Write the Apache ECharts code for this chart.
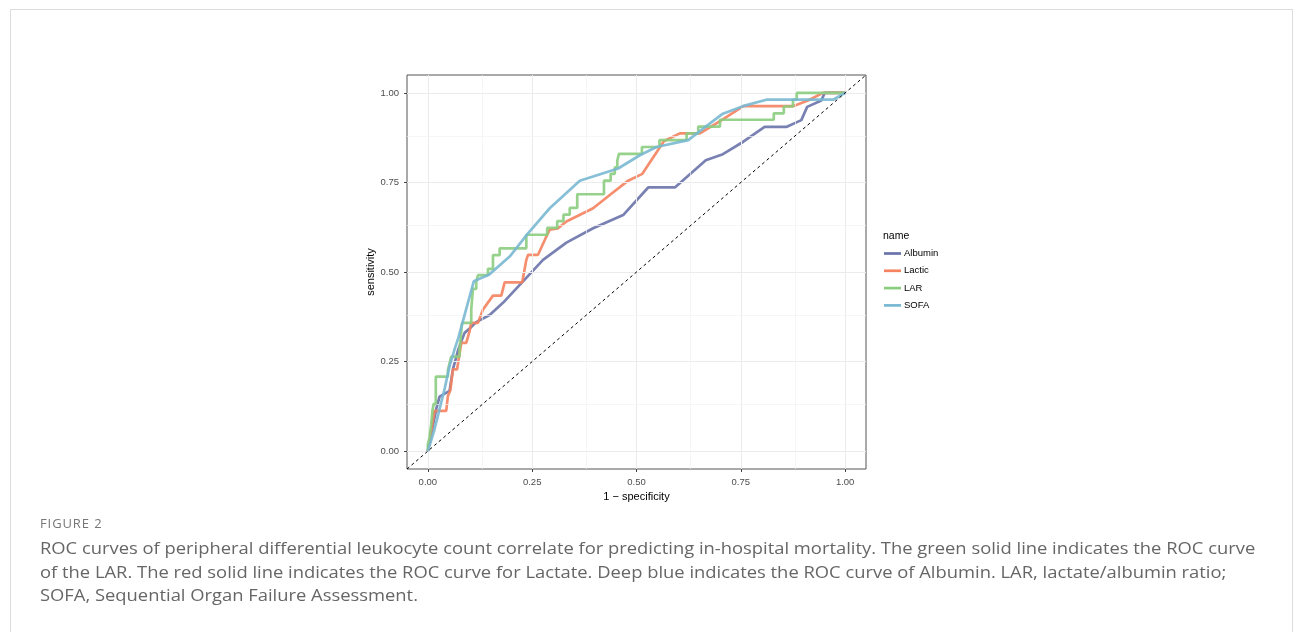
<!DOCTYPE html>
<html>
<head>
<meta charset="utf-8">
<script src="https://cdn.jsdelivr.net/npm/echarts@6/dist/echarts.min.js"></script>
<style>
  html, body { margin: 0; padding: 0; background: #fff; overflow: hidden; }
  #frame { position: absolute; left: 10px; top: 9px; width: 1283px; height: 660px; border: 1px solid #dcdcdc; box-sizing: border-box; }
  #chart { position: absolute; left: 0; top: 0; width: 1295px; height: 632px; }
  #figlabel { position: absolute; left: 40px; top: 514px; font-family: "Open Sans", sans-serif; font-size: 13px; color: #777; letter-spacing: 0.9px; }
  #caption { position: absolute; left: 40px; top: 537px; font-family: "Open Sans", sans-serif; font-size: 16px; line-height: 23.5px; color: #666; white-space: nowrap; transform: scaleX(1.148); transform-origin: 0 0; }
</style>
</head>
<body>
<div id="frame"></div>
<div id="chart"></div>
<div id="figlabel">FIGURE 2</div>
<div id="caption">ROC curves of peripheral differential leukocyte count correlate for predicting in-hospital mortality. The green solid line indicates the ROC curve<br>of the LAR. The red solid line indicates the ROC curve for Lactate. Deep blue indicates the ROC curve of Albumin. LAR, lactate/albumin ratio;<br>SOFA, Sequential Organ Failure Assessment.</div>
<script>
// ---- data (1 - specificity, sensitivity) ----
const seriesNames = ['Albumin', 'Lactic', 'LAR', 'SOFA'];
const tickValues = [0, 0.25, 0.5, 0.75, 1];
const minorValues = [0.125, 0.375, 0.625, 0.875];

const albumin = [[0,0],[0.012,0.07],[0.02,0.117],[0.028,0.152],[0.052,0.168],[0.06,0.228],[0.073,0.284],[0.088,0.33],[0.1,0.342],[0.116,0.36],[0.148,0.38],[0.18,0.414],[0.228,0.474],[0.276,0.534],[0.332,0.582],[0.396,0.622],[0.468,0.659],[0.528,0.736],[0.592,0.736],[0.666,0.812],[0.707,0.829],[0.755,0.863],[0.807,0.905],[0.859,0.905],[0.895,0.924],[0.909,0.961],[0.943,0.979],[0.951,1.0],[1,1]];

const lactic = [[0,0],[0.016,0.112],[0.044,0.112],[0.048,0.154],[0.054,0.17],[0.06,0.228],[0.07,0.228],[0.08,0.302],[0.092,0.302],[0.1,0.335],[0.104,0.358],[0.12,0.358],[0.132,0.395],[0.156,0.434],[0.176,0.434],[0.184,0.471],[0.226,0.471],[0.236,0.534],[0.24,0.548],[0.264,0.548],[0.284,0.599],[0.292,0.618],[0.312,0.622],[0.332,0.641],[0.396,0.678],[0.436,0.715],[0.48,0.755],[0.514,0.774],[0.566,0.866],[0.604,0.887],[0.652,0.887],[0.704,0.924],[0.756,0.963],[0.875,0.963],[0.911,0.979],[0.947,1.0],[1,1]];

const lar = [[0,0],[0,0.019],[0.004,0.019],[0.004,0.038],[0.008,0.038],[0.008,0.075],[0.011,0.075],[0.011,0.113],[0.014,0.113],[0.014,0.132],[0.019,0.132],[0.019,0.208],[0.048,0.208],[0.048,0.226],[0.052,0.226],[0.052,0.245],[0.056,0.245],[0.056,0.264],[0.076,0.264],[0.076,0.283],[0.079,0.283],[0.079,0.321],[0.082,0.321],[0.082,0.358],[0.104,0.358],[0.104,0.396],[0.108,0.396],[0.108,0.453],[0.116,0.453],[0.116,0.472],[0.12,0.472],[0.12,0.491],[0.144,0.491],[0.144,0.509],[0.156,0.509],[0.156,0.547],[0.172,0.547],[0.172,0.566],[0.236,0.566],[0.236,0.604],[0.286,0.604],[0.286,0.623],[0.31,0.623],[0.31,0.642],[0.325,0.642],[0.325,0.66],[0.34,0.66],[0.34,0.679],[0.358,0.679],[0.358,0.717],[0.422,0.717],[0.422,0.755],[0.438,0.755],[0.438,0.774],[0.448,0.774],[0.448,0.792],[0.454,0.792],[0.454,0.811],[0.458,0.811],[0.458,0.83],[0.513,0.83],[0.513,0.849],[0.555,0.849],[0.555,0.868],[0.62,0.868],[0.62,0.887],[0.648,0.887],[0.648,0.906],[0.7,0.906],[0.7,0.925],[0.829,0.925],[0.829,0.943],[0.853,0.943],[0.853,0.962],[0.875,0.962],[0.875,0.981],[0.884,0.981],[0.884,1],[1,1]];

const sofa = [[0,0],[0.016,0.061],[0.028,0.117],[0.04,0.173],[0.052,0.237],[0.064,0.284],[0.073,0.316],[0.11,0.474],[0.146,0.492],[0.196,0.543],[0.24,0.608],[0.292,0.678],[0.364,0.755],[0.456,0.789],[0.508,0.826],[0.548,0.849],[0.624,0.868],[0.665,0.905],[0.707,0.942],[0.755,0.963],[0.811,0.981],[0.971,0.981],[1,1]];

const diagonal = [[-0.05,-0.05],[1.05,1.05]];

const colors = ['#6a73ab', '#f4825f', '#8bcd7e', '#79b8d2'];
const seriesData = [albumin, lactic, lar, sofa];

const chart = echarts.init(document.getElementById('chart'), null, {renderer: 'canvas'});

const gridLines = [];
tickValues.forEach(v => { gridLines.push({xAxis: v, lineStyle: {color: '#ebebeb', width: 1, type: 'solid'}}); gridLines.push({yAxis: v, lineStyle: {color: '#ebebeb', width: 1, type: 'solid'}}); });
minorValues.forEach(v => { gridLines.push({xAxis: v, lineStyle: {color: '#f2f2f2', width: 0.7, type: 'solid'}}); gridLines.push({yAxis: v, lineStyle: {color: '#f2f2f2', width: 0.7, type: 'solid'}}); });

const axisCommon = {
  type: 'value', min: -0.05, max: 1.05,
  splitLine: {show: false},
  axisLine: {show: false, onZero: false},
  axisTick: {show: true, customValues: tickValues, length: 3, lineStyle: {color: '#444', width: 1}},
  axisLabel: {customValues: tickValues, formatter: v => v.toFixed(2), fontSize: 9.5, color: '#4d4d4d', fontFamily: 'Liberation Sans, Arial, sans-serif'},
  nameLocation: 'middle',
  nameTextStyle: {fontSize: 11, color: '#000', fontFamily: 'Liberation Sans, Arial, sans-serif'}
};

const series = [{
  name: 'gridlines', type: 'line', data: [], silent: true, z: 0,
  markLine: {silent: true, symbol: 'none', label: {show: false}, animation: false, data: gridLines}
}];
seriesNames.forEach((n, i) => series.push({
  name: n, type: 'line', data: seriesData[i], showSymbol: false, symbol: 'none',
  lineStyle: {color: colors[i], width: 2.7, opacity: 0.9}, itemStyle: {color: colors[i]}, z: 3 + i, animation: false
}));
series.push({
  name: 'diag', type: 'line', data: diagonal, showSymbol: false, symbol: 'none', z: 10,
  lineStyle: {color: '#000', width: 1, type: [3, 3]}, animation: false
});

chart.setOption({
  animation: false,
  grid: {left: 407, top: 75, width: 459, height: 394, show: true, borderColor: '#555', borderWidth: 1, backgroundColor: 'transparent'},
  xAxis: Object.assign({}, axisCommon, {name: '1 \u2212 specificity', nameGap: 20, position: 'bottom'}),
  yAxis: Object.assign({}, axisCommon, {name: 'sensitivity', nameGap: 30, position: 'left'}),
  legend: {
    data: seriesNames, orient: 'vertical', left: 879, top: 243, icon: 'rect',
    itemWidth: 17, itemHeight: 2.7, itemGap: 6.3, selectedMode: false,
    textStyle: {fontSize: 9.5, color: '#000', lineHeight: 11, fontFamily: 'Liberation Sans, Arial, sans-serif', padding: [0, 0, 0, -2]}
  },
  graphic: [{type: 'text', left: 883, top: 231, style: {text: 'name', fontSize: 10.5, fill: '#000', fontFamily: 'Liberation Sans, Arial, sans-serif'}}],
  series: series
});
</script>
</body>
</html>
